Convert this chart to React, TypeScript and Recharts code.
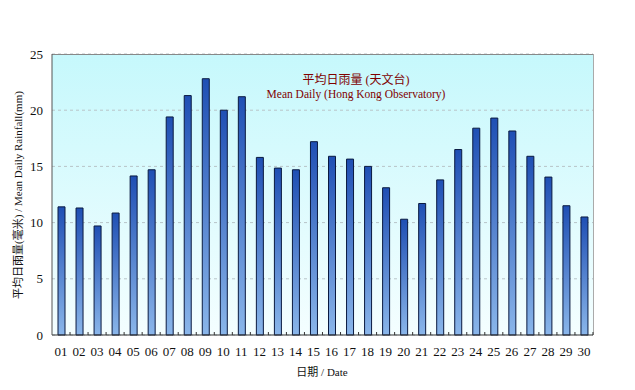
import React from "react";
import { BarChart, Bar, XAxis, YAxis, CartesianGrid } from "recharts";

const days = ["01","02","03","04","05","06","07","08","09","10","11","12","13","14","15","16","17","18","19","20","21","22","23","24","25","26","27","28","29","30"];
const rainfall = [11.4,11.3,9.7,10.85,14.15,14.7,19.4,21.3,22.8,20.0,21.2,15.8,14.85,14.7,17.2,15.9,15.65,15.0,13.1,10.3,11.7,13.8,16.5,18.4,19.3,18.15,15.9,14.05,11.5,10.5];
const yTicks = [0,5,10,15,20,25];

const data = days.map((d, i) => ({ day: d, value: rainfall[i] }));

const SERIF = "'Liberation Serif', 'Times New Roman', 'Noto Sans CJK TC', serif";

const XTick = (props: any) => {
  const { x, y, payload } = props;
  return (
    <g>
      <line x1={x + 9} x2={x + 9} y1={y} y2={y - 3} stroke="#333" strokeWidth={1} />
      <text x={x} y={y + 21} textAnchor="middle" fontSize={13} fontFamily={SERIF} fill="#111">
        {payload.value}
      </text>
    </g>
  );
};

export default function App() {
  return (
    <div style={{ position: "absolute", left: 0, top: 0, width: 635, height: 390, background: "#fff" }}>
      <BarChart width={635} height={390} data={data} margin={{ top: 54, right: 42, bottom: 25, left: 0 }} barSize={7}>
        <defs>
          <linearGradient id="bg" x1="0" y1="0" x2="0" y2="1">
            <stop offset="0%" stopColor="#c6f8fc" />
            <stop offset="100%" stopColor="#f4feff" />
          </linearGradient>
          <linearGradient id="barg" x1="0" y1="0" x2="0" y2="1">
            <stop offset="0%" stopColor="#1f4fb4" />
            <stop offset="100%" stopColor="#8ab6ea" />
          </linearGradient>
        </defs>
        <CartesianGrid vertical={false} stroke="#b8c4c8" strokeDasharray="3 3" fill="url(#bg)" />
        <XAxis dataKey="day" height={30} interval={0} tickLine={false} tickSize={0} tickMargin={0} tick={<XTick />} axisLine={{ stroke: "#333" }} />
        <YAxis domain={[0, 25]} ticks={yTicks} width={52} tickLine={false} tickSize={0} tickMargin={9} axisLine={{ stroke: "#555" }} tick={{ fontSize: 13, fontFamily: SERIF, fill: "#111" }} />
        <Bar dataKey="value" fill="url(#barg)" stroke="#0a1a40" strokeWidth={1} isAnimationActive={false} />
        <line x1={52} x2={593} y1={54.5} y2={54.5} stroke="#888" />
        <line x1={593.5} x2={593.5} y1={54} y2={335} stroke="#aaa" />
        <text x={356} y={84} textAnchor="middle" fontSize={12} fontFamily={SERIF} fill="#800000">平均日雨量 (天文台)</text>
        <text x={356} y={98} textAnchor="middle" fontSize={11.5} fontFamily={SERIF} fill="#800000">Mean Daily (Hong Kong Observatory)</text>
        <text x={322} y={376} textAnchor="middle" fontSize={11} fontFamily={SERIF} fill="#111">日期 / Date</text>
        <text x={22} y={195} textAnchor="middle" fontSize={11} fontFamily={SERIF} fill="#111" transform="rotate(-90 22 195)">平均日雨量(毫米) / Mean Daily Rainfall(mm)</text>
      </BarChart>
    </div>
  );
}
